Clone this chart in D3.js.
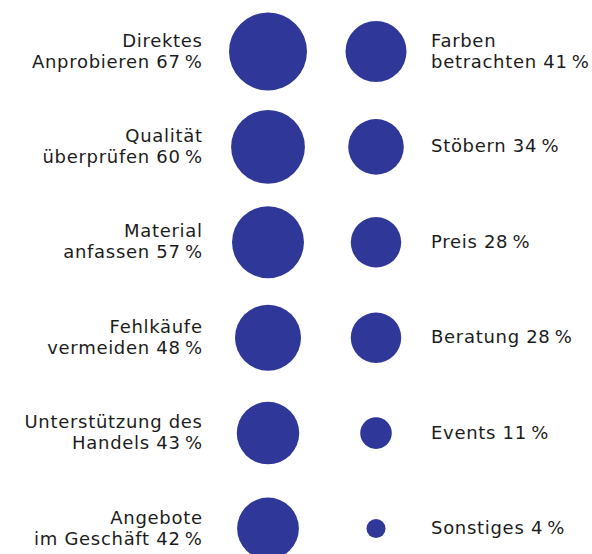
<!DOCTYPE html>
<html>
<head>
<meta charset="utf-8">
<script src="https://cdn.jsdelivr.net/npm/d3@7"></script>
<style>
  body { margin: 0; background: #fff; }
  text { font-family: "DejaVu Sans", sans-serif; fill: #1c1c1c; }
</style>
</head>
<body>
<div id="chart"></div>
<script>
// left column (biggest values)
var leftLabels = ["Direktes|Anprobieren", "Qualität|überprüfen", "Material|anfassen", "Fehlkäufe|vermeiden", "Unterstützung des|Handels", "Angebote|im Geschäft"];
var leftValues = [67, 60, 57, 48, 43, 42];

// right column
var rightLabels = ["Farben|betrachten", "Stöbern", "Preis", "Beratung", "Events", "Sonstiges"];
var rightValues = [41, 34, 28, 28, 11, 4];

var width = 592, height = 554;
var leftX = 268, rightX = 376;
var lineH = 21;

var svg = d3.select("#chart")
  .append("svg")
    .attr("width", width)
    .attr("height", height);

var y = d3.scalePoint()
  .domain(d3.range(leftValues.length))
  .range([51.5, 528.5]);

// circle area ~ percent
var r = d3.scaleSqrt()
  .domain([0, 67])
  .range([0, 39]);

function drawColumn(labels, values, cx, side) {
  var g = svg.append("g");

  g.selectAll("circle")
    .data(values)
    .enter()
    .append("circle")
      .attr("cx", cx)
      .attr("cy", function(d, i) { return y(i); })
      .attr("r", function(d) { return r(d); })
      .attr("fill", "#2f3798");

  var tx = side == "left" ? 202 : 431;

  labels.forEach(function(d, i) {
    var lines = d.split("|");
    lines[lines.length - 1] += " " + values[i] + "\u2009%";
    lines.forEach(function(l, j) {
      g.append("text")
        .attr("x", side == "left" ? tx + 0.7 : tx)
        .attr("y", y(i) + 5.5 + (j - (lines.length - 1) / 2) * lineH)
        .attr("text-anchor", side == "left" ? "end" : "start")
        .style("font-size", "18px")
        .style("letter-spacing", "0.7px")
        .text(l);
    });
  });
}

drawColumn(leftLabels, leftValues, leftX, "left");
drawColumn(rightLabels, rightValues, rightX, "right");
</script>
</body>
</html>
